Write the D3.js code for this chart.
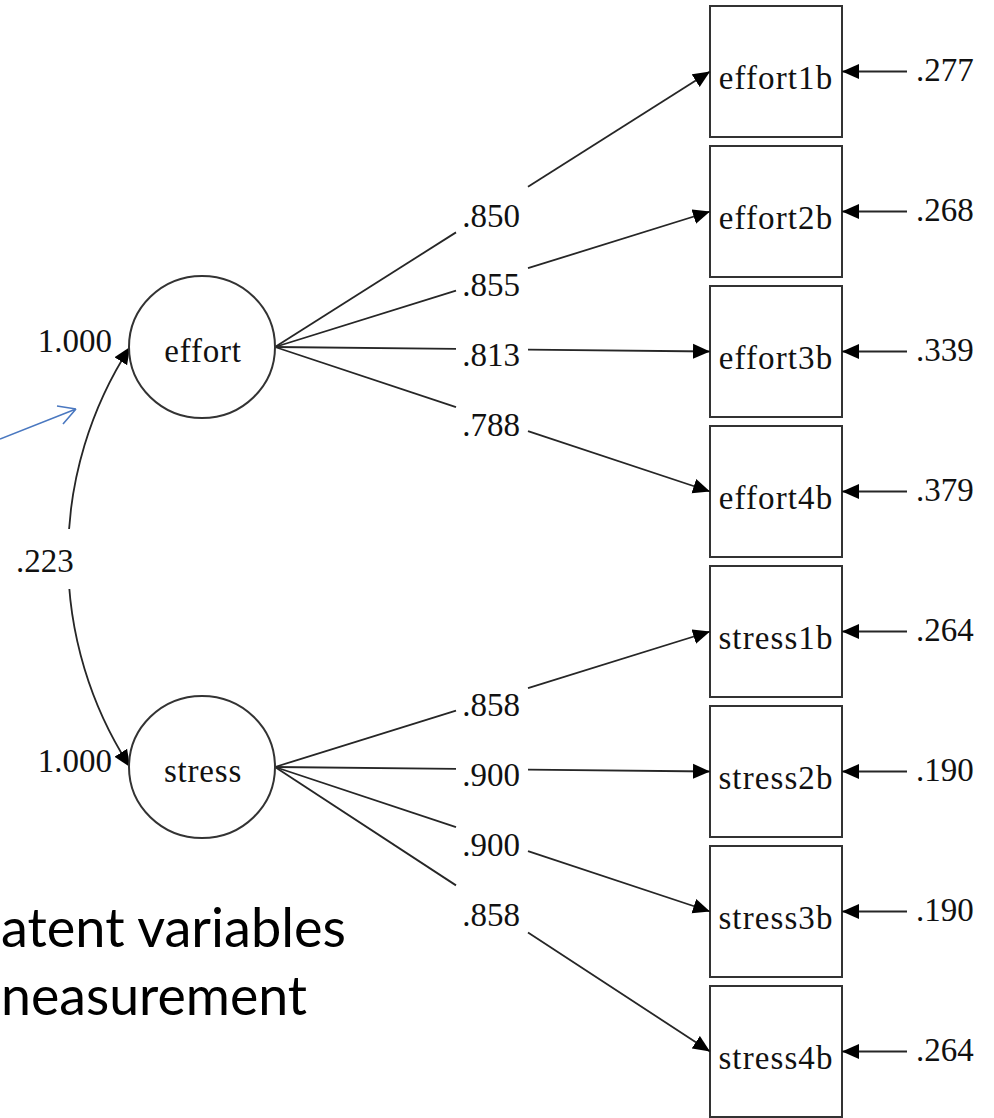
<!DOCTYPE html>
<html><head><meta charset="utf-8">
<script src="https://cdn.jsdelivr.net/npm/d3@7"></script>
<style>
html,body{margin:0;padding:0;background:#fff;overflow:hidden;}
svg{display:block;}
</style></head>
<body>
<script>
// ---- data ----
const factors = ["effort", "stress"];
const factorVariances = [1.000, 1.000];
const covariance = 0.223;
const indicators = ["effort1b","effort2b","effort3b","effort4b","stress1b","stress2b","stress3b","stress4b"];
const indicatorFactor = ["effort","effort","effort","effort","stress","stress","stress","stress"];
const loadings = [0.850, 0.855, 0.813, 0.788, 0.858, 0.900, 0.900, 0.858];
const errorVariances = [0.277, 0.268, 0.339, 0.379, 0.264, 0.190, 0.190, 0.264];
const noteLines = ["atent variables", "neasurement"];

// ---- layout ----
const W = 994, H = 1118;
const svg = d3.select("body").append("svg").attr("width", W).attr("height", H);
const fmt = v => d3.format(".3f")(v).replace(/^0\./, ".");
const serif = "'Liberation Serif','Times New Roman',serif";
const ink = "#111", lineCol = "#262626";

const yInd = d3.scalePoint().domain(indicators).range([71.5, 1051.5]);
const yFac = d3.scalePoint().domain(factors).range([347, 767]);
const boxX0 = 710, boxX1 = 842, boxH = 131;
const facCx = 202, facRx = 73, facRy = 71;
const labelX = 492, gapHalf = 36;

// markers
const defs = svg.append("defs");
defs.append("marker").attr("id","ah").attr("markerUnits","userSpaceOnUse")
  .attr("viewBox","0 -8 18 16").attr("markerWidth",18).attr("markerHeight",16)
  .attr("refX",17).attr("refY",0).attr("orient","auto-start-reverse")
  .append("path").attr("d","M0,-7.5L17,0L0,7.5Z").attr("fill","#000");

// indicator boxes
indicators.forEach((ind,i) => {
  const cy = yInd(ind);
  svg.append("rect").attr("x",boxX0).attr("y",cy-boxH/2).attr("width",boxX1-boxX0).attr("height",boxH)
    .attr("fill","#fff").attr("stroke","#333").attr("stroke-width",2);
  svg.append("text").attr("x",(boxX0+boxX1)/2).attr("y",cy+17).attr("text-anchor","middle")
    .attr("font-family",serif).attr("font-size",33).attr("letter-spacing",1.1).attr("fill",ink).text(ind);
  // error arrow
  svg.append("line").attr("x1",907).attr("y1",cy).attr("x2",boxX1).attr("y2",cy)
    .attr("stroke",lineCol).attr("stroke-width",1.8).attr("marker-end","url(#ah)");
  svg.append("text").attr("x",916).attr("y",cy+9).attr("font-family",serif).attr("font-size",33)
    .attr("fill",ink).text(fmt(errorVariances[i]));
});

// loadings
indicators.forEach((ind,i) => {
  const fy = yFac(indicatorFactor[i]);
  const x0 = facCx + facRx, y0 = fy, x1 = boxX0, y1 = yInd(ind);
  const yAt = x => y0 + (y1-y0)*(x-x0)/(x1-x0);
  svg.append("line").attr("x1",x0).attr("y1",y0).attr("x2",labelX-gapHalf).attr("y2",yAt(labelX-gapHalf))
    .attr("stroke",lineCol).attr("stroke-width",1.8);
  svg.append("line").attr("x1",labelX+gapHalf).attr("y1",yAt(labelX+gapHalf)).attr("x2",x1).attr("y2",y1)
    .attr("stroke",lineCol).attr("stroke-width",1.8).attr("marker-end","url(#ah)");
  svg.append("text").attr("x",labelX-1).attr("y",yAt(labelX)+17).attr("text-anchor","middle")
    .attr("font-family",serif).attr("font-size",33).attr("fill",ink).text(fmt(loadings[i]));
});

// covariance arc
const pTop = [facCx - facRx + 1, yFac(factors[0])], pBot = [facCx - facRx + 1, yFac(factors[1])];
const bulgeX = 68;
const half = (pBot[1]-pTop[1])/2, sag = pTop[0]-bulgeX;
const R = (half*half)/(2*sag) + sag/2;
svg.append("path")
  .attr("d",`M${pBot[0]},${pBot[1]} A${R},${R} 0 0 1 ${pTop[0]},${pTop[1]}`)
  .attr("fill","none").attr("stroke",lineCol).attr("stroke-width",1.8)
  .attr("marker-start","url(#ah)").attr("marker-end","url(#ah)");
svg.append("rect").attr("x",10).attr("y",529).attr("width",70).attr("height",60).attr("fill","#fff");
svg.append("text").attr("x",16).attr("y",572).attr("font-family",serif).attr("font-size",33)
  .attr("fill",ink).text(fmt(covariance));

// factors
factors.forEach((f,i) => {
  const cy = yFac(f);
  svg.append("ellipse").attr("cx",facCx).attr("cy",cy).attr("rx",facRx).attr("ry",facRy)
    .attr("fill","#fff").attr("stroke","#333").attr("stroke-width",2);
  svg.append("text").attr("x",facCx+1).attr("y",cy+15).attr("text-anchor","middle")
    .attr("font-family",serif).attr("font-size",33).attr("letter-spacing",0.8).attr("fill",ink).text(f);
  svg.append("text").attr("x",112).attr("y",cy+5).attr("text-anchor","end")
    .attr("font-family",serif).attr("font-size",33).attr("fill",ink).text(d3.format(".3f")(factorVariances[i]));
});

// blue annotation arrow
const blue = "#4a78c0";
svg.append("path").attr("d","M0,439 L76,409 M57,406 L76,409 M63,424 L76,409")
  .attr("fill","none").attr("stroke",blue).attr("stroke-width",1.6);

// note text (visible portion at left edge)
const note = svg.append("g");
note.append("text").attr("x",1).attr("y",947).attr("font-family","Lato,'Open Sans',sans-serif")
  .attr("font-size",55).attr("textLength",345).attr("lengthAdjust","spacingAndGlyphs")
  .attr("fill","#000").text(noteLines[0]);
note.append("text").attr("x",1).attr("y",1015).attr("font-family","Lato,'Open Sans',sans-serif")
  .attr("font-size",55).attr("textLength",306).attr("lengthAdjust","spacingAndGlyphs")
  .attr("fill","#000").text(noteLines[1]);
</script>
</body></html>
